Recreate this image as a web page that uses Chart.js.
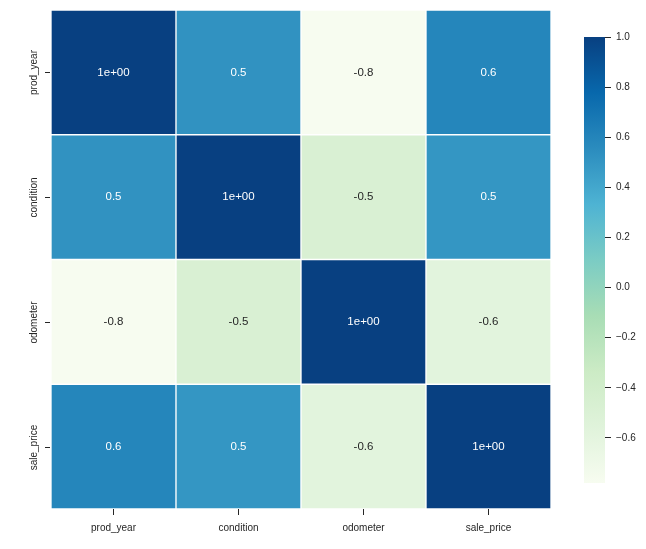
<!DOCTYPE html>
<html>
<head>
<meta charset="utf-8">
<script src="https://cdn.jsdelivr.net/npm/chart.js@4/dist/chart.umd.min.js"></script>
<style>
  html, body { margin: 0; padding: 0; background: #fff; }
  #wrap { position: relative; width: 646px; height: 549px; }
  #heat { position: absolute; left: 0; top: 0; }
  #cbar { position: absolute; left: 560px; top: 0; }
</style>
</head>
<body>
<div id="wrap">
  <canvas id="heat" width="646" height="549"></canvas>
  <canvas id="cbar" width="86" height="549"></canvas>
</div>
<script>
// correlation matrix, one array per row
const variables = ['prod_year', 'condition', 'odometer', 'sale_price'];
const corrProdYear  = [1.0, 0.52, -0.78, 0.59];
const corrCondition = [0.52, 1.0, -0.48, 0.5];
const corrOdometer  = [-0.78, -0.48, 1.0, -0.58];
const corrSalePrice = [0.59, 0.5, -0.58, 1.0];
const colorbarTicks = [-0.6, -0.4, -0.2, 0.0, 0.2, 0.4, 0.6, 0.8, 1.0];

const rows = [corrProdYear, corrCondition, corrOdometer, corrSalePrice];
const vmin = Math.min(...rows.flat());
const vmax = Math.max(...rows.flat());

// GnBu colour stops (colorbrewer, 9 classes)
const gnbuStops = ['#f7fcf0', '#e0f3db', '#ccebc5', '#a8ddb5', '#7bccc4',
                   '#4eb3d3', '#2b8cbe', '#0868ac', '#084081'];
const TEXT = '#262626';
const FONT = "'Liberation Sans', Arial, sans-serif";
Chart.defaults.font.family = FONT;

function hexToRgb(h) {
  return [1, 3, 5].map(i => parseInt(h.substr(i, 2), 16));
}

function gnbu(v) {
  let t = (v - vmin) / (vmax - vmin);
  t = Math.max(0, Math.min(1, t)) * (gnbuStops.length - 1);
  const i = Math.min(Math.floor(t), gnbuStops.length - 2);
  const f = t - i;
  const a = hexToRgb(gnbuStops[i]), b = hexToRgb(gnbuStops[i + 1]);
  const c = a.map((x, k) => Math.round(x + (b[k] - x) * f));
  return 'rgb(' + c.join(',') + ')';
}

// same rule seaborn uses to pick the annotation colour
function luminance(rgbStr) {
  const c = rgbStr.match(/\d+/g).map(x => {
    x = x / 255;
    return x <= 0.03928 ? x / 12.92 : Math.pow((x + 0.055) / 1.055, 2.4);
  });
  return 0.2126 * c[0] + 0.7152 * c[1] + 0.0722 * c[2];
}

// '.1g' style labels
function fmt(v) {
  if (Math.abs(v) >= 0.95) return v.toExponential(0).replace(/e([+-])(\d)$/, 'e$10$2');
  return v.toFixed(1);
}

// annotations + rotated y labels
const heatDecor = {
  id: 'heatDecor',
  afterDatasetsDraw(chart) {
    const ctx = chart.ctx;
    const xs = chart.scales.x, ys = chart.scales.y;
    ctx.save();
    ctx.textAlign = 'center';
    ctx.textBaseline = 'middle';
    ctx.font = '11.5px ' + FONT;
    rows.forEach((vals, r) => {
      vals.forEach((v, c) => {
        const col = gnbu(v);
        ctx.fillStyle = luminance(col) > 0.408 ? TEXT : '#ffffff';
        ctx.fillText(fmt(v), xs.getPixelForValue(c), ys.getPixelForValue(r + 0.5));
      });
    });
    ctx.restore();
  },
  afterDraw(chart) {
    const ctx = chart.ctx;
    const ys = chart.scales.y;
    const left = chart.chartArea.left;
    ctx.save();
    ctx.strokeStyle = TEXT;
    ctx.fillStyle = TEXT;
    ctx.lineWidth = 1;
    ctx.font = '10px ' + FONT;
    ctx.textAlign = 'center';
    ctx.textBaseline = 'middle';
    variables.forEach((name, r) => {
      const y = Math.round(ys.getPixelForValue(r + 0.5)) + 0.5;
      ctx.beginPath();
      ctx.moveTo(left - 6, y);
      ctx.lineTo(left - 1, y);
      ctx.stroke();
      ctx.save();
      ctx.translate(left - 17, y);
      ctx.rotate(-Math.PI / 2);
      ctx.fillText(name, 0, 0);
      ctx.restore();
    });
    ctx.restore();
  }
};

new Chart(document.getElementById('heat'), {
  type: 'bar',
  data: {
    labels: variables,
    datasets: rows.map((vals, r) => ({
      data: vals.map(() => [r, r + 1]),
      backgroundColor: vals.map(v => gnbu(v)),
      borderColor: '#ffffff',
      borderWidth: 1,
      borderSkipped: false,
      barPercentage: 1,
      categoryPercentage: 1,
      grouped: false
    }))
  },
  options: {
    responsive: false,
    animation: false,
    layout: { padding: { left: 51, top: 10, right: 95, bottom: 0 } },
    plugins: { legend: { display: false }, tooltip: { enabled: false } },
    scales: {
      x: {
        type: 'category',
        grid: { drawOnChartArea: false, offset: false, tickLength: 6, color: TEXT },
        border: { display: false },
        ticks: { color: TEXT, font: { size: 10 }, padding: 7, maxRotation: 0 },
        afterFit: s => { s.height = 40; }
      },
      y: {
        type: 'linear',
        min: 0,
        max: 4,
        reverse: true,
        display: false
      }
    }
  },
  plugins: [heatDecor]
});

// colour bar: one floating bar spanning the data range, filled with the colormap
new Chart(document.getElementById('cbar'), {
  type: 'bar',
  data: {
    labels: ['corr'],
    datasets: [{
      data: [[vmin, vmax]],
      backgroundColor: (ctx) => {
        const ca = ctx.chart.chartArea;
        if (!ca) return gnbuStops[4];
        const g = ctx.chart.ctx.createLinearGradient(0, ca.bottom, 0, ca.top);
        gnbuStops.forEach((c, i) => g.addColorStop(i / (gnbuStops.length - 1), c));
        return g;
      },
      borderWidth: 0,
      barPercentage: 1,
      categoryPercentage: 1
    }]
  },
  options: {
    responsive: false,
    animation: false,
    layout: { padding: { left: 24, top: 37, right: 0, bottom: 66 } },
    plugins: { legend: { display: false }, tooltip: { enabled: false } },
    scales: {
      x: { display: false },
      y: {
        position: 'right',
        min: vmin,
        max: vmax,
        afterBuildTicks: s => { s.ticks = colorbarTicks.map(v => ({ value: v })); },
        grid: { drawOnChartArea: false, tickLength: 6, color: TEXT },
        border: { display: false },
        ticks: {
          color: TEXT,
          font: { size: 10 },
          padding: 5,
          callback: v => (v < 0 ? '\u2212' : '') + Math.abs(v).toFixed(1)
        },
        afterFit: s => { s.width = 41; }
      }
    }
  }
});
</script>
</body>
</html>
